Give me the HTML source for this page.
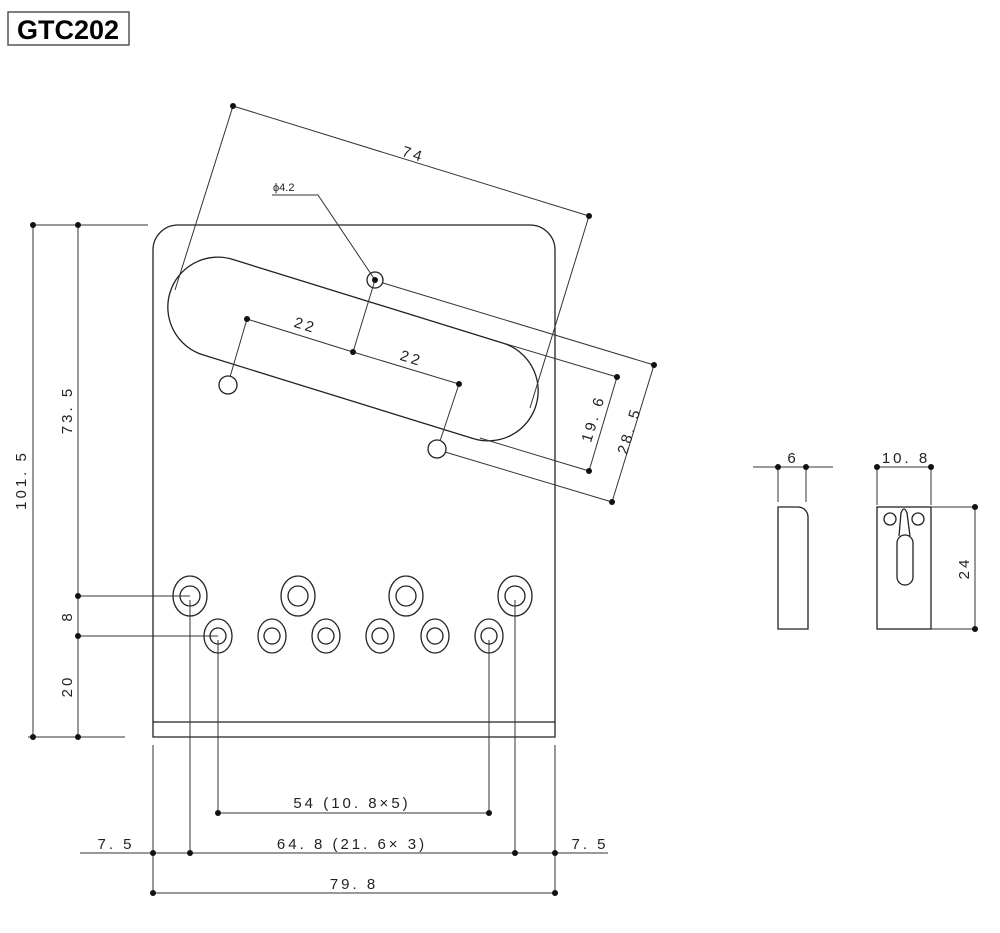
<!DOCTYPE html>
<html><head><meta charset="utf-8"><style>
html,body{margin:0;padding:0;background:#fff;}
svg{display:block;}
text{font-family:"Liberation Sans",sans-serif;fill:#222;}
</style></head><body>
<svg width="1000" height="933" viewBox="0 0 1000 933" xmlns="http://www.w3.org/2000/svg">
<rect x="8" y="12" width="121" height="33" fill="#fff" stroke="#555" stroke-width="1.5"/>
<text x="68" y="39" font-size="27" font-weight="bold" text-anchor="middle" style="fill:#000">GTC202</text>

<g fill="none" stroke="#222" stroke-width="1.3">
<!-- plate -->
<path d="M153,737 L153,250 A25,25 0 0 1 178,225 L530,225 A25,25 0 0 1 555,250 L555,737 Z"/>
<line x1="153" y1="722" x2="555" y2="722"/>
<!-- slot -->
<rect x="-191.5" y="-50" width="383" height="100" rx="50" transform="translate(353,349) rotate(17.2)"/>
<circle cx="228" cy="385" r="9"/>
<circle cx="437" cy="449" r="9"/>
<circle cx="375" cy="280" r="8"/>
<!-- big holes -->
<ellipse cx="190" cy="596" rx="17" ry="20"/><circle cx="190" cy="596" r="10"/>
<ellipse cx="298" cy="596" rx="17" ry="20"/><circle cx="298" cy="596" r="10"/>
<ellipse cx="406" cy="596" rx="17" ry="20"/><circle cx="406" cy="596" r="10"/>
<ellipse cx="515" cy="596" rx="17" ry="20"/><circle cx="515" cy="596" r="10"/>
<ellipse cx="218" cy="636" rx="14" ry="17"/><circle cx="218" cy="636" r="8"/>
<ellipse cx="272" cy="636" rx="14" ry="17"/><circle cx="272" cy="636" r="8"/>
<ellipse cx="326" cy="636" rx="14" ry="17"/><circle cx="326" cy="636" r="8"/>
<ellipse cx="380" cy="636" rx="14" ry="17"/><circle cx="380" cy="636" r="8"/>
<ellipse cx="435" cy="636" rx="14" ry="17"/><circle cx="435" cy="636" r="8"/>
<ellipse cx="489" cy="636" rx="14" ry="17"/><circle cx="489" cy="636" r="8"/>
<!-- side views -->
<path d="M778,629 L778,507 L798,507 A10,10 0 0 1 808,517 L808,629 Z"/>
<rect x="877" y="507" width="54" height="122"/>
<circle cx="890" cy="519" r="6"/><circle cx="918" cy="519" r="6"/>
<rect x="897" y="535" width="16" height="50" rx="8"/>
<path d="M899,536 L901,513 Q904,505 907,513 L910,536"/>
</g>

<g fill="none" stroke="#333" stroke-width="1">
<!-- top dims -->
<line x1="233" y1="106" x2="589" y2="216"/>
<line x1="233" y1="106" x2="175" y2="290"/>
<line x1="589" y1="216" x2="530" y2="408"/>
<polyline points="272,195 318,195 375,280"/>
<polyline points="247,319 353,352 459,384"/>
<line x1="247" y1="319" x2="230" y2="377"/>
<line x1="459" y1="384" x2="440" y2="441"/>
<line x1="375" y1="280" x2="353" y2="352"/>
<line x1="503" y1="343" x2="617" y2="377"/>
<line x1="480" y1="438" x2="589" y2="471"/>
<line x1="617" y1="377" x2="589" y2="471"/>
<line x1="383" y1="283" x2="654" y2="365"/>
<line x1="445" y1="452" x2="612" y2="502"/>
<line x1="654" y1="365" x2="612" y2="502"/>
<!-- left dims -->
<line x1="33" y1="225" x2="148" y2="225"/>
<line x1="33" y1="225" x2="33" y2="737"/>
<line x1="78" y1="225" x2="78" y2="737"/>
<line x1="28" y1="737" x2="125" y2="737"/>
<line x1="78" y1="596" x2="190" y2="596"/>
<line x1="78" y1="636" x2="218" y2="636"/>
<!-- bottom dims -->
<line x1="190" y1="600" x2="190" y2="853"/>
<line x1="515" y1="600" x2="515" y2="853"/>
<line x1="218" y1="640" x2="218" y2="813"/>
<line x1="489" y1="640" x2="489" y2="813"/>
<line x1="153" y1="745" x2="153" y2="893"/>
<line x1="555" y1="745" x2="555" y2="893"/>
<line x1="218" y1="813" x2="489" y2="813"/>
<line x1="80" y1="853" x2="608" y2="853"/>
<line x1="153" y1="893" x2="555" y2="893"/>
<!-- side dims -->
<line x1="753" y1="467" x2="833" y2="467"/>
<line x1="778" y1="467" x2="778" y2="502"/>
<line x1="806" y1="467" x2="806" y2="502"/>
<line x1="877" y1="467" x2="931" y2="467"/>
<line x1="877" y1="467" x2="877" y2="505"/>
<line x1="931" y1="467" x2="931" y2="505"/>
<line x1="931" y1="507" x2="975" y2="507"/>
<line x1="931" y1="629" x2="975" y2="629"/>
<line x1="975" y1="507" x2="975" y2="629"/>
</g>

<g fill="#111">
<circle cx="233" cy="106" r="3"/><circle cx="589" cy="216" r="3"/>
<circle cx="375" cy="280" r="3"/>
<circle cx="247" cy="319" r="3"/><circle cx="353" cy="352" r="3"/><circle cx="459" cy="384" r="3"/>
<circle cx="617" cy="377" r="3"/><circle cx="589" cy="471" r="3"/>
<circle cx="654" cy="365" r="3"/><circle cx="612" cy="502" r="3"/>
<circle cx="33" cy="225" r="3"/><circle cx="78" cy="225" r="3"/>
<circle cx="33" cy="737" r="3"/><circle cx="78" cy="737" r="3"/>
<circle cx="78" cy="596" r="3"/><circle cx="78" cy="636" r="3"/>
<circle cx="218" cy="813" r="3"/><circle cx="489" cy="813" r="3"/>
<circle cx="153" cy="853" r="3"/><circle cx="190" cy="853" r="3"/><circle cx="515" cy="853" r="3"/><circle cx="555" cy="853" r="3"/>
<circle cx="153" cy="893" r="3"/><circle cx="555" cy="893" r="3"/>
<circle cx="778" cy="467" r="3"/><circle cx="806" cy="467" r="3"/>
<circle cx="877" cy="467" r="3"/><circle cx="931" cy="467" r="3"/>
<circle cx="975" cy="507" r="3"/><circle cx="975" cy="629" r="3"/>
</g>

<g font-size="15" letter-spacing="3">
<text x="412" y="159" text-anchor="middle" transform="rotate(17.2 412 159)">74</text>
<text x="304" y="330" text-anchor="middle" transform="rotate(17.2 304 330)">22</text>
<text x="410" y="363" text-anchor="middle" transform="rotate(17.2 410 363)">22</text>
<text x="598" y="420" text-anchor="middle" transform="rotate(-73 598 420)">19. 6</text>
<text x="634" y="432" text-anchor="middle" transform="rotate(-73 634 432)">28. 5</text>
<text x="26" y="480" text-anchor="middle" transform="rotate(-90 26 480)">101. 5</text>
<text x="72" y="410" text-anchor="middle" transform="rotate(-90 72 410)">73. 5</text>
<text x="72" y="616" text-anchor="middle" transform="rotate(-90 72 616)">8</text>
<text x="72" y="686" text-anchor="middle" transform="rotate(-90 72 686)">20</text>
<text x="352" y="808" text-anchor="middle">54 (10. 8×5)</text>
<text x="116" y="849" text-anchor="middle">7. 5</text>
<text x="352" y="849" text-anchor="middle">64. 8 (21. 6× 3)</text>
<text x="590" y="849" text-anchor="middle">7. 5</text>
<text x="354" y="889" text-anchor="middle">79. 8</text>
<text x="793" y="463" text-anchor="middle">6</text>
<text x="906" y="463" text-anchor="middle">10. 8</text>
<text x="969" y="568" text-anchor="middle" transform="rotate(-90 969 568)">24</text>
</g>
<text x="273" y="191" font-size="11">ϕ4.2</text>
</svg>
</body></html>
